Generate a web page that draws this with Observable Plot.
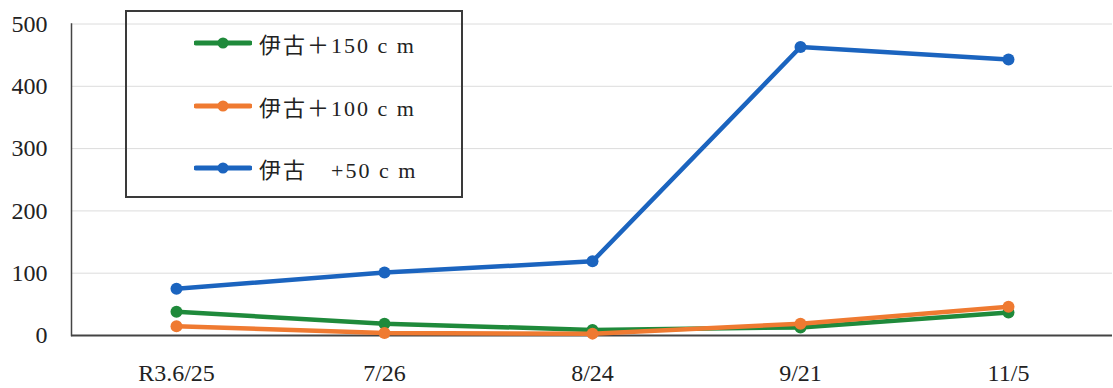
<!DOCTYPE html>
<html>
<head>
<meta charset="utf-8">
<script src="https://cdn.jsdelivr.net/npm/d3@7"></script>
<script src="https://cdn.jsdelivr.net/npm/@observablehq/plot@0.6"></script>
<style>
  html, body { margin: 0; padding: 0; background: #fff; }
  #chart { position: relative; width: 1113px; height: 388px; }
  #chart svg { display: block; font-family: "Liberation Serif", "Noto Sans CJK JP", serif !important; }
  #chart svg text { font-family: "Liberation Serif", "Noto Sans CJK JP", serif !important; }
  .legend {
    position: absolute; left: 125px; top: 10px; width: 338px; height: 188px;
    box-sizing: border-box; border: 2px solid #3a3a3a; background: transparent;
    font-family: "Liberation Serif", "Noto Sans CJK JP", serif; font-size: 22px; color: #222;
  }
  .legend .item { position: absolute; left: 67px; height: 24px; display: flex; align-items: center; }
  .legend .item span { margin-left: 7px; letter-spacing: 2px; white-space: pre; }
</style>
</head>
<body>
<div id="chart"></div>
<script>
// Sampling dates (category axis)
const dates = ["R3.6/25", "7/26", "8/24", "9/21", "11/5"];

// Measured values per depth
const iko150 = [38, 19, 9, 13, 37];
const iko100 = [15, 4, 3, 19, 46];
const iko50  = [75, 101, 119, 463, 443];

// Series names, colours and y-axis ticks
const seriesNames  = ["伊古＋150 c m", "伊古＋100 c m", "伊古　+50 c m"];
const seriesColors = ["#1f8a3b", "#ef7a31", "#1b64bf"];
const seriesValues = [iko150, iko100, iko50];
const yTicks = [0, 100, 200, 300, 400, 500];

const rows = seriesNames.flatMap((name, i) =>
  dates.map((date, j) => ({ series: name, date, value: seriesValues[i][j] }))
);

// Each series draws its line and then its markers, in legend order
const seriesMarks = seriesNames.flatMap(name => {
  const data = rows.filter(d => d.series === name);
  return [
    Plot.line(data, { x: "date", y: "value", stroke: "series", strokeWidth: 4.5, strokeLinejoin: "round", strokeLinecap: "round" }),
    Plot.dot(data, { x: "date", y: "value", fill: "series", r: 6 })
  ];
});

const chart = Plot.plot({
  width: 1113,
  height: 388,
  marginLeft: 71,
  marginRight: 1,
  marginTop: 23.5,
  marginBottom: 53,
  x: { type: "point", domain: dates, padding: 0.5 },
  y: { domain: [0, 500] },
  color: { domain: seriesNames, range: seriesColors },
  style: { fontSize: "24px", color: "#222", background: "#fff" },
  marks: [
    Plot.gridY(yTicks.slice(1), { stroke: "#dcdcdc", strokeOpacity: 1, strokeWidth: 1 }),
    Plot.axisY(yTicks, { tickSize: 0, tickPadding: 24, label: null, fontSize: 24 }),
    Plot.axisX({ tickSize: 0, tickPadding: 28, label: null, fontSize: 24, style: "letter-spacing: 2px" }),
    Plot.frame({ anchor: "left", stroke: "#444", strokeWidth: 1.5 }),
    Plot.ruleY([0], { stroke: "#444", strokeWidth: 2 }),
    ...seriesMarks
  ]
});

const root = document.getElementById("chart");
root.appendChild(chart);

// Legend box drawn over the plot area
const legend = document.createElement("div");
legend.className = "legend";
const itemTops = [19, 82, 144];
seriesNames.forEach((name, i) => {
  const item = document.createElement("div");
  item.className = "item";
  item.style.top = itemTops[i] + "px";
  const c = seriesColors[i];
  item.innerHTML =
    `<svg width="58" height="14"><line x1="2" y1="7" x2="56" y2="7" stroke="${c}" stroke-width="5" stroke-linecap="round"/>` +
    `<circle cx="29" cy="7" r="5.5" fill="${c}"/></svg><span>${name}</span>`;
  legend.appendChild(item);
});
root.appendChild(legend);
</script>
</body>
</html>
